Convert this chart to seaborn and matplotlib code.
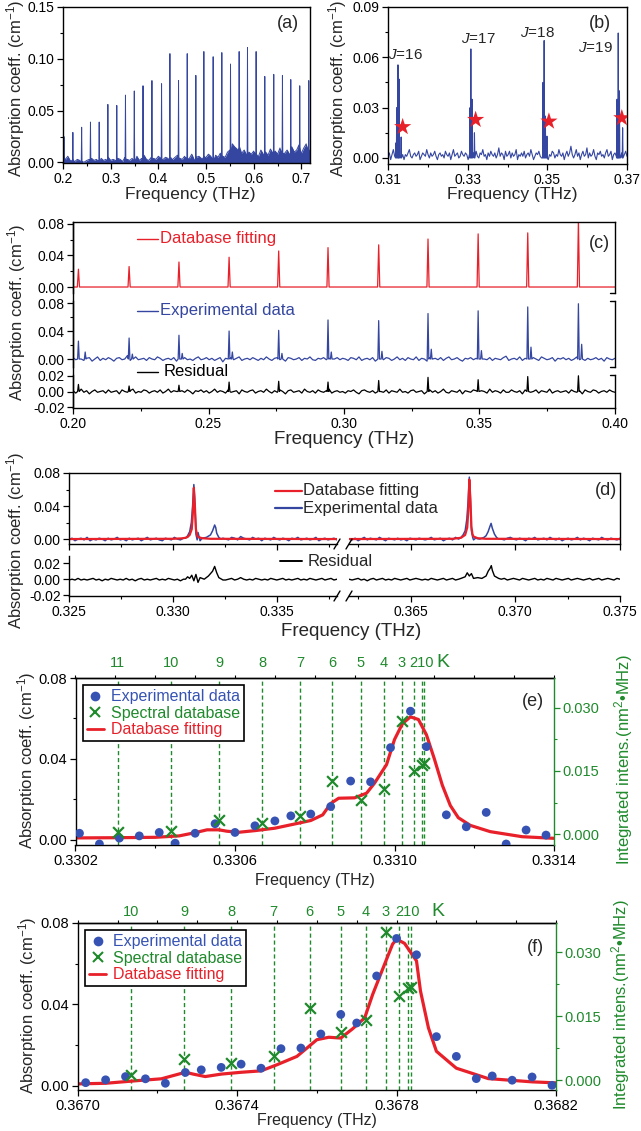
import numpy as np
import matplotlib
matplotlib.use("Agg")
import matplotlib.pyplot as plt
import seaborn as sns
from matplotlib.lines import Line2D
from matplotlib.ticker import FormatStrFormatter, NullFormatter

# ---- data --------------------------------------------------------------
# panels (a)-(d): absorption values in 10^-3 cm^-1, frequencies in THz

# (a) broad spectrum: line centres / heights and the baseline envelope
a_peak_x = [0.2020, 0.2207, 0.2391, 0.2576, 0.2759, 0.2941, 0.3128, 0.3310, 0.3495, 0.3678,
            0.3865, 0.4067, 0.4242, 0.4423, 0.4605, 0.4786, 0.4954, 0.5149, 0.5331, 0.5513,
            0.5694, 0.5869, 0.6050, 0.6232, 0.6420, 0.6602, 0.6777, 0.6965, 0.7154]
a_peak_h = [25, 29, 34, 39, 39, 56, 55, 65, 69, 74, 79, 76, 105, 79, 105, 84, 107, 102, 106, 95,
            107, 111, 107, 83, 85, 84, 80, 74, 79]
a_base = [8, 3, 6, 2, 4, 1, 3, 2, 0.5, 0.5, 2, 3, 4, 2, 3, 1, 4, 2, 3, 5, 2, 3, 2, 4, 3, 1, 5, 3, 2, 4,
          3, 6, 2, 4, 7, 3, 2, 5, 4, 3, 6, 4, 3, 5, 4, 6, 3, 5, 7, 4, 3, 6, 5, 4, 8, 3, 5, 6, 4, 7,
          5, 8, 6, 4, 7, 5, 9, 6, 5, 10, 12, 18, 15, 13, 16, 9, 12, 7, 10, 8, 11, 9, 6, 12, 8, 10, 7,
          13, 9, 11, 8, 14, 10, 9, 12, 8, 15, 10, 12, 17, 9, 14, 18, 12, 16]

# (b) J = 16..19 multiplets
b_peak_x = [0.3120, 0.3122, 0.3125, 0.3128, 0.3133, 0.3306, 0.3308, 0.3311, 0.3317,
            0.3489, 0.3492, 0.3495, 0.3499, 0.3675, 0.3678, 0.3681, 0.3689]
b_peak_h = [9, 30, 55.5, 47, 12.5, 30, 65, 35, 15, 45, 70, 25, 13, 35, 74.5, 40, 18]
b_base = [1, 3, -1, 2, 5, 1, 2, 0, 3, 1, 4, 2, -1, 2, 1, 3, 5, 1, 0, 2, 3, 1, 2, 4, -1, 1, 3, 2,
          1, 5, 2, 0, 3, 1, 2, 4, 1, -1, 2, 3, 1, 2, 0, 4, 2, 1, 3, -1, 2, 5, 1, 2, 3, 0, 1, 4, 2,
          1, 3, 2, -1, 2, 5, 1, 3, 2, 4, 1, 0, 3, 2, 5, 1, 2, -1, 3, 1, 4, 2, 1, 3, 0, 2, 6, 1, 3,
          2, -1, 4, 1, 2, 4, 0, 3, 1, 2, 5, -1, 2, 1, 3, 1, 4, 0, 2, 3, 1, 5, 2, -1, 1, 3, 2, 4,
          1, 0, 2, 6, 1, 3, -1, 2, 1, 4, 3, 0, 2, 1, 5, 2, 1, 3, -1, 2, 4, 1, 3, 7, 2, 0, 2, 5, 1,
          3, -1, 2, 4, 1, 2, 6, 0, 3, 1, 2, 5, 1, -1, 3, 2, 4, 1, 2, 0, 3, 5, 1, 2, 4, -1, 2, 3,
          1, 5, 2, 0, 3, 1, 2, 4, 1]
b_star_x = [0.31368, 0.3320, 0.3504, 0.3687]
b_star_y = [18.5, 22.8, 21.8, 23.8]
b_j_names = ["16", "17", "18", "19"]

# (c) database fit / experiment / residual, 0.2 - 0.4 THz
c_line_x = [0.2020, 0.2207, 0.2391, 0.2576, 0.2759, 0.2941, 0.3128, 0.3310, 0.3495, 0.3678, 0.3865]
c_fit_h = [22.6, 26, 31.7, 37.8, 45.7, 50, 53.5, 60.9, 67.4, 68.7, 85]
c_exp_h = [25.6, 30, 34, 40, 41, 55.8, 54.9, 65, 68.8, 74.4, 79]
c_sat_x = [0.2045, 0.2219, 0.2403, 0.2588, 0.2771, 0.2953, 0.3140, 0.3322, 0.3507, 0.3690, 0.3877]
c_sat_h = [10, 7, 8, 10, 8, 10, 11, 14, 12, 17, 21]
c_res_h = [9, 7, 8, 12, 13, 12, 14, 18, 15, 19, 20]
c_exp_base = [2, -1, 3, 0, -2, 1, 2, -3, 0, 3, -2, 1, -1, 2, 0, -3, 1, 2, -1, 0,
              5, -2, 1, 3, -1, 0, 1, -2, 2, 0, -1, 3, 1, -2, 0, 1, -1, 2, -3, 0,
              1, 2, -1, 0, -2, 1, 3, -1, 0, 2, -1, 1, -2, 0, 2, -4, 1, 0, 2, -1,
              1, 3, -2, 0, 1, -1, 2, 0, -2, 1, -1, 3, 0, -2, 1, 2, -1, 0, -3, 2,
              1, -1, 0, 2, -2, 1, 0, 3, -1, -2, 1, 0, 2, -1, 1, -3, 0, 2, -1, 1,
              0, -2, 2, 1, -1, 3, -2, 0, 1, -1, 2, -3, 1, 0, -1, 2, 1, -2, 0, 3,
              -1, 1, -2, 2, 0, -1, 3, -2, 1, 0, -3, 2, 0, 1, -1, 2, -2, 1, 3, -1,
              0, 2, -1, -3, 1, 0, 2, -1, 1, -2, 3, 0, -1, 2, -2, 1, 0, -1, 2, 4,
              -2, 0, 1, -1, 3, -2, 1, 0, -1, 2, 0, -2, 3, 1, -1, 0, 2, -3, 1, 0,
              2, -1, 1, -2, 0, 3, -1, 2, -2, 1, -1, 0, 2, -1, 1, -3, 2, 0, -1, 1]
c_res_base = [1, -2, 0, 3, -1, 1, -3, 0, 2, -1, 0, 1, -2, 2, -1, 0, 1, -3, 2, 0,
              -1, 1, 3, -2, 0, -1, 2, 1, -2, 0, 1, -1, 2, -2, 0, 3, -1, 1, 0, -2,
              1, -1, 2, 0, -3, 1, 0, 2, -1, 1, -2, 0, 3, -1, 1, 0, -2, 2, -1, 0,
              1, -3, 2, 0, -1, 1, 2, -2, 0, 1, -1, 3, 0, -2, 1, -1, 2, 0, -3, 1,
              2, -1, 0, 1, -2, 3, 0, -1, 1, -2, 2, 0, -1, 1, 3, -2, 0, 1, -1, 0,
              -2, 1, 0, 2, -1, -3, 1, 2, 0, -1, 1, -2, 3, 0, -1, 2, -2, 1, 0, -1,
              3, -1, 0, -2, 1, 2, -1, 0, 1, -3, 0, 2, -1, 1, -2, 0, 3, -1, -2, 1,
              0, -1, 2, -3, 1, 0, -1, 2, 1, -2, 1, 0, -2, 3, -1, 1, 0, -2, 2, -1,
              -1, 2, 0, -1, 1, -3, 2, 1, -1, 0, 2, -2, 1, 0, -1, 3, -2, 0, 1, -1,
              0, 1, -2, 2, 0, -1, 1, -3, 2, 0, -1, 2, 1, -2, 0, 1, -1, 2, 0, -1]

# (d) two windows around J=17 and J=19
d_fit_left_x = [0.3250, 0.3300, 0.3304, 0.3306, 0.3307, 0.3308, 0.3309, 0.33095, 0.3310, 0.33105,
                0.3311, 0.33115, 0.3312, 0.3314, 0.3318, 0.33788]
d_fit_left_y = [0, 0.3, 0.8, 1.5, 2.5, 5, 12, 30, 62, 40, 12, 5, 2.5, 1, 0.3, 0]
d_fit_right_x = [0.36205, 0.3670, 0.3674, 0.3676, 0.3677, 0.36775, 0.3678, 0.36785, 0.3679,
                 0.36795, 0.3680, 0.3682, 0.3686, 0.3750]
d_fit_right_y = [0, 0.3, 1.5, 5, 14, 34, 72, 48, 15, 6, 3, 1, 0.3, 0]

d_exp_left_pk_x = [0.3306, 0.3307, 0.3308, 0.33088, 0.33094, 0.3310, 0.33104, 0.33108, 0.3311,
                   0.33116, 0.3312, 0.33126, 0.3313, 0.3314, 0.3316, 0.3318, 0.3319, 0.3320,
                   0.33205, 0.3321, 0.3322, 0.3323, 0.3324]
d_exp_left_pk_y = [1, 4, 9, 20, 40, 66, 50, 22, 6, -1, 8, 2, -2, 1, 2, 5, 10, 17, 14, 7, 2, 0, 1]
d_exp_right_pk_x = [0.3674, 0.3675, 0.3676, 0.36768, 0.36774, 0.3678, 0.36784, 0.36788, 0.3679,
                    0.36796, 0.3680, 0.3681, 0.3683, 0.3685, 0.3686, 0.3687, 0.36878, 0.36884,
                    0.3689, 0.3690, 0.3691, 0.3692]
d_exp_right_pk_y = [2, 5, 10, 24, 45, 75, 58, 25, 10, 2, -1, 1, 0, 2, 4, 9, 15, 19, 13, 6, 2, 0]
d_res_left_pk_x = [0.3306, 0.3307, 0.3308, 0.3309, 0.3310, 0.3311, 0.3312, 0.3313, 0.3315, 0.3317,
                   0.3319, 0.3320, 0.3321, 0.3322, 0.3324]
d_res_left_pk_y = [0, 3, 1, 5, -2, 6, -4, 2, 0, 4, 10, 16, 8, 2, -1]
d_res_right_pk_x = [0.3674, 0.3676, 0.3677, 0.3678, 0.3679, 0.3680, 0.3682, 0.3684, 0.3686,
                    0.3687, 0.3688, 0.36885, 0.3689, 0.3690, 0.3692]
d_res_right_pk_y = [1, 3, 8, 4, 7, 1, 2, 1, 4, 10, 14, 17, 11, 4, 1]

d_exp_left_base = [-1, 1, -2, 0, 1, -1, 2, -2, 0, -1, 1, 0, -2, 1, -1, 0, 2, -1, 0, -2, 1, -1, 0,
                   1, -2, 0, 2, -1, 0, 1, -1, -2, 1, 0, -1, 2, 0, -1, 1, -2, 0, 1, -1, 0, 2, -1,
                   1, 0, 2, -1, 1, 3, 0, -1, 2, 1, -1, 3, 1, 0, -1, 2, 0, 1, -2, 1, 0, -1, 2, 0,
                   -1, 1, 0, -2, 1, 0, 2, -1, 0, 1, -1, 0, 2, -2, 0, 1, -1, 0, 1, -1]
d_res_left_base = [-1, 0, -1, 1, -1, 0, -1, 0, 1, -1, 0, -2, 0, -1, 1, 0, -1, 0, -1, 1, -1, 0, -2,
                   0, 1, -1, 0, -1, 0, 1, -1, 0, -1, 1, 0, -1, 0, -2, 0, 1, -1, 0, 1, -1, 0, -1,
                   1, 0, -1, 1, 0, 2, -1, 0, 1, -1, 0, 2, 0, -1, 0, -1, 1, 0, -1, 0, -1, 1, 0,
                   -1, 0, 1, -1, 0, -1, 0, 1, -1, 0, -1, 1, 0, -1, 0, 1, -1, 0, 1, -1, 0]
d_exp_right_base = [0, -1, 1, -2, 0, 2, -1, 1, 0, -1, 2, 0, -2, 1, 0, -1, 1, -1, 0, -2, 1, 0, -1,
                    1, 0, -1, 0, 2, -1, 0, 1, -2, 0, 1, -1, 2, 0, -1, 1, 0, 2, -1, 0, 1, 3, 0, 1,
                    -1, 2, 1, 0, -1, 1, 2, 0, -1, 1, 0, -2, 1, 0, 2, -1, 0, 1, -1, 2, 0, -1, 1,
                    -2, 0, 1, -1, 0, 2, -1, 1, 0, -2, 1, 0, -1, 2, 0, -1, 1, 0, -1, 1]
d_res_right_base = [0, -1, 0, 1, -1, 0, -2, 0, 1, -1, 0, 1, -1, 0, -1, 1, 0, -1, 0, 1, -1, 0, 1,
                    0, -1, 0, -1, 1, 0, -1, 0, 1, -1, 0, 1, -1, 0, -1, 1, 0, 1, -1, 0, 1, 0, -1,
                    2, 0, 1, -1, 0, 1, -1, 0, 1, 0, -1, 1, 0, -1, 0, 1, -1, 0, -1, 1, 0, -1, 1,
                    0, -1, 0, 1, -1, 0, 1, 0, -1, 0, 1, -1, 0, 1, -1, 0, 1, 0, -1, 1, 0]

# (e) J=17 K-structure (cm^-1, right axis nm^2 MHz)
e_exp_x = [0.33021, 0.33026, 0.33031, 0.33036, 0.33041, 0.33045, 0.33050, 0.33055, 0.33060,
           0.33065, 0.33070, 0.33074, 0.33079, 0.33084, 0.33089, 0.33094, 0.33099, 0.33104,
           0.33108, 0.33113, 0.33118, 0.33123, 0.33128, 0.33133, 0.33138]
e_exp_y = [0.0033, -0.0020, 0.0009, 0.0020, 0.0037, -0.0016, 0.0033, 0.0080, 0.0037, 0.0070,
           0.0094, 0.0119, 0.0128, 0.0165, 0.0291, 0.0287, 0.0456, 0.0636, 0.0461, 0.0124,
           0.0065, 0.0136, -0.0020, 0.0049, 0.0024]
e_fit_x = [0.33020, 0.33030, 0.33040, 0.33046, 0.33050, 0.33053, 0.33056, 0.33058, 0.33061,
           0.33065, 0.33070, 0.33075, 0.33079, 0.33082, 0.33084, 0.33086, 0.33090, 0.33093,
           0.33095, 0.33098, 0.33100, 0.33102, 0.33104, 0.33106, 0.33108, 0.33110, 0.33112,
           0.33114, 0.33116, 0.33119, 0.33124, 0.33132, 0.33140]
e_fit_y = [0.0010, 0.0011, 0.0013, 0.0020, 0.0036, 0.0050, 0.0050, 0.0043, 0.0038, 0.0046,
           0.0058, 0.0079, 0.0096, 0.0124, 0.0180, 0.0206, 0.0208, 0.0231, 0.0281, 0.0372,
           0.0496, 0.0575, 0.0608, 0.0595, 0.0520, 0.0400, 0.0270, 0.0170, 0.0110, 0.0072,
           0.0041, 0.0016, 0.0008]
e_k = [11, 10, 9, 8, 7, 6, 5, 4, 3, 2, 1, 0]
e_k_x = [0.330306, 0.330439, 0.330560, 0.330668, 0.330763, 0.330844, 0.330915, 0.330974,
         0.331018, 0.331050, 0.331068, 0.331075]
e_k_int = [0.0004, 0.0008, 0.0034, 0.0026, 0.0043, 0.0126, 0.0082, 0.0108, 0.0268, 0.0151,
           0.0165, 0.0170]

# (f) J=19 K-structure
f_exp_x = [0.36702, 0.36707, 0.36712, 0.36717, 0.36722, 0.36727, 0.36731, 0.36736, 0.36741,
           0.36746, 0.36751, 0.36756, 0.36761, 0.36766, 0.36770, 0.36775, 0.36780, 0.36785,
           0.36790, 0.36795, 0.36800, 0.36804, 0.36809, 0.36814, 0.36819]
f_exp_y = [0.0016, 0.0030, 0.0046, 0.0035, 0.0013, 0.0066, 0.0079, 0.0091, 0.0107, 0.0087,
           0.0183, 0.0186, 0.0255, 0.0351, 0.0309, 0.0540, 0.0724, 0.0644, 0.0242, 0.0145,
           0.0036, 0.0049, 0.0028, 0.0044, 0.0003]
f_fit_x = [0.36700, 0.36707, 0.36715, 0.36721, 0.36724, 0.36727, 0.36729, 0.36732, 0.36736,
           0.36741, 0.36746, 0.36750, 0.36755, 0.36758, 0.36760, 0.36763, 0.36766, 0.36769,
           0.36772, 0.36774, 0.36777, 0.36779, 0.36780, 0.36782, 0.36785, 0.36786, 0.36788,
           0.36790, 0.36793, 0.36795, 0.36803, 0.36814, 0.36820]
f_fit_y = [0.0010, 0.0013, 0.0026, 0.0035, 0.0051, 0.0067, 0.0058, 0.0046, 0.0058, 0.0067,
           0.0074, 0.0104, 0.0145, 0.0194, 0.0227, 0.0239, 0.0235, 0.0281, 0.0334, 0.0449,
           0.0598, 0.0696, 0.0721, 0.0700, 0.0614, 0.0466, 0.0285, 0.0170, 0.0120, 0.0087,
           0.0036, 0.0020, 0.0015]
f_k = [10, 9, 8, 7, 6, 5, 4, 3, 2, 1, 0]
f_k_x = [0.367134, 0.367267, 0.367385, 0.367492, 0.367582, 0.367660, 0.367723, 0.367773,
         0.367807, 0.367828, 0.367836]
f_k_int = [0.0013, 0.0049, 0.0041, 0.0057, 0.0168, 0.0113, 0.0142, 0.0347, 0.0198, 0.0215,
           0.0219]

# ---- style -------------------------------------------------------------
BLUE = "#3446a0"
DOT = "#3653b3"
RED = "#e8202a"
GREEN = "#1f8a2c"
M = 1e-3
TS = 10  # tick label size, panels a-d

sns.set_style("ticks")
plt.rcParams["font.family"] = ["Liberation Sans", "DejaVu Sans"]
plt.rcParams.update({
    "mathtext.fontset": "custom",
    "mathtext.rm": "Liberation Sans",
    "mathtext.it": "Liberation Sans:italic",
    "axes.unicode_minus": False,
    "axes.edgecolor": "black",
    "axes.linewidth": 1.0,
    "xtick.color": "black", "ytick.color": "black",
    "xtick.direction": "out", "ytick.direction": "out",
    "xtick.major.size": 4, "ytick.major.size": 4,
    "xtick.minor.size": 2.5, "ytick.minor.size": 2.5,
    "xtick.major.width": 0.9, "ytick.major.width": 0.9,
    "xtick.minor.width": 0.8, "ytick.minor.width": 0.8,
    "xtick.major.pad": 2.5, "ytick.major.pad": 2,
})

W, H = 641, 1131
fig = plt.figure(figsize=(W / 100, H / 100), dpi=100)


def box(l, t, r, b):
    return fig.add_axes([l / W, 1 - b / H, (r - l) / W, (b - t) / H])


def ftext(x, y, s, **kw):
    fig.text(x / W, 1 - y / H, s, **kw)


def fline(x0, x1, y0, y1, **kw):
    fig.add_artist(Line2D([x0 / W, x1 / W], [1 - y0 / H, 1 - y1 / H],
                          transform=fig.transFigure, **kw))


def spikes(cx, h, hw):
    xs, ys, spans = [], [], []
    for c, v in zip(cx, h):
        xs += [c - hw, c, c + hw]
        ys += [0, v, 0]
        spans.append((c - hw, c + hw))
    return xs, ys, spans


def splice(bx, by, px, py, spans):
    # baseline samples inside a peak are replaced by the peak profile
    bx = np.asarray(bx, float)
    by = np.asarray(by, float)
    keep = np.ones(len(bx), bool)
    for a, b in spans:
        keep &= ~((bx >= a) & (bx <= b))
    x = np.concatenate([bx[keep], px])
    y = np.concatenate([by[keep], py])
    o = np.argsort(x, kind="stable")
    return x[o], y[o]


def line(ax, x, y, color, lw):
    sns.lineplot(x=x, y=y, color=color, lw=lw, sort=False, estimator=None, ax=ax)


def ticks(ax, axis, major, minor, fmt, size):
    a = ax.xaxis if axis == "x" else ax.yaxis
    a.set_ticks(major)
    a.set_ticks(minor, minor=True)
    a.set_major_formatter(FormatStrFormatter(fmt))
    ax.tick_params(axis=axis, labelsize=size)


YLAB = "Absorption coeff. (cm$^{-1}$)"

# ---- (a) ---------------------------------------------------------------
ax = box(63, 7, 310, 163)
xb = np.linspace(0.2, 0.72, len(a_base))
yb = np.asarray(a_base) * M
ax.fill_between(xb, 0, yb, color=BLUE, lw=0)
px, py, sp = spikes(a_peak_x, np.asarray(a_peak_h) * M, 0.0008)
x, y = splice(xb, yb, px, py, sp)
line(ax, x, y, BLUE, 0.7)
ax.set_xlim(0.2, 0.718)
ax.set_ylim(-0.0005, 0.15)
ticks(ax, "x", [0.2, 0.3, 0.4, 0.5, 0.6, 0.7], [0.25, 0.35, 0.45, 0.55, 0.65], "%.1f", TS)
ticks(ax, "y", [0, 0.05, 0.10, 0.15], [0.025, 0.075, 0.125], "%.2f", TS)
ftext(288, 23, "(a)", fontsize=13, ha="center", va="center")
ftext(190, 195, "Frequency (THz)", fontsize=12.5, ha="center", va="center")
ftext(16, 88, YLAB, fontsize=12, rotation=90, ha="center", va="center")

# ---- (b) ---------------------------------------------------------------
ax = box(388, 7, 627, 164)
xb = np.linspace(0.31, 0.37, len(b_base))
yb = np.asarray(b_base) * M
px, py, sp = spikes(b_peak_x, np.asarray(b_peak_h) * M, 0.0001)
x, y = splice(xb, yb, px, py, sp)
line(ax, x, y, BLUE, 0.8)
sns.scatterplot(x=b_star_x, y=np.asarray(b_star_y) * M, marker="*", s=170, color=RED,
                edgecolor="none", ax=ax, zorder=5)
j_pos = [(0.3144, 0.0616), (0.3328, 0.0709), (0.3474, 0.0745), (0.3621, 0.0656)]
for (jx, jy), n in zip(j_pos, b_j_names):
    ax.text(jx, jy, "$J$=" + n, fontsize=11, ha="center", va="center")
ax.set_xlim(0.31, 0.37)
ax.set_ylim(-0.0036, 0.09)
ticks(ax, "x", [0.31, 0.33, 0.35, 0.37], [0.32, 0.34, 0.36], "%.2f", TS)
ticks(ax, "y", [0, 0.03, 0.06, 0.09], [0.015, 0.045, 0.075], "%.2f", TS)
ftext(600, 23, "(b)", fontsize=13, ha="center", va="center")
ftext(512, 195, "Frequency (THz)", fontsize=12.5, ha="center", va="center")
ftext(338, 88, YLAB, fontsize=12, rotation=90, ha="center", va="center")

# ---- (c) ---------------------------------------------------------------
c_top = box(73, 222, 615, 293)
c_mid = box(73, 301, 615, 367)
c_res = box(73, 375, 615, 408)

px, py, sp = spikes(c_line_x, np.asarray(c_fit_h) * M, 0.0004)
x, y = splice([0.2, 0.4], [0, 0], px, py, sp)
line(c_top, x, y, RED, 0.9)

xb = np.linspace(0.2, 0.4, len(c_exp_base))
px, py, sp = spikes(c_line_x + c_sat_x, np.asarray(c_exp_h + c_sat_h) * M, 0.0003)
x, y = splice(xb, np.asarray(c_exp_base) * M, px, py, sp)
line(c_mid, x, y, BLUE, 0.9)

xb = np.linspace(0.2, 0.4, len(c_res_base))
px, py, sp = spikes(c_line_x, np.asarray(c_res_h) * M, 0.0003)
x, y = splice(xb, np.asarray(c_res_base) * M, px, py, sp)
line(c_res, x, y, "black", 0.9)

for a, lim in [(c_top, (-0.0076, 0.0825)), (c_mid, (-0.0114, 0.0829)), (c_res, (-0.021, 0.021))]:
    a.set_xlim(0.2, 0.4)
    a.set_ylim(lim)
    ticks(a, "x", [0.20, 0.25, 0.30, 0.35, 0.40], [0.225, 0.275, 0.325, 0.375], "%.2f", TS)
for a in (c_top, c_mid):
    ticks(a, "y", [0, 0.04, 0.08], [0.02, 0.06], "%.2f", TS)
    a.tick_params(axis="x", which="both", bottom=False, labelbottom=False)
    a.spines["bottom"].set_visible(False)
ticks(c_res, "y", [-0.02, 0, 0.02], [], "%.2f", TS)
c_mid.spines["top"].set_visible(False)
c_res.spines["top"].set_visible(False)
for a, ends in [(c_top, [0]), (c_mid, [0, 1]), (c_res, [1])]:
    for e in ends:
        a.plot([1, 0.99], [e, e], transform=a.transAxes, color="black", lw=1, clip_on=False)
fline(73, 73, 222, 408, color="black", lw=1)
fline(137, 158, 239, 239, color=RED, lw=1)
ftext(160, 239, "Database fitting", color=RED, fontsize=12, va="center")
fline(137, 158, 311, 311, color=BLUE, lw=1)
ftext(160, 311, "Experimental data", color=BLUE, fontsize=12, va="center")
fline(137, 158, 372, 372, color="black", lw=1)
ftext(164, 372, "Residual", color="black", fontsize=12, va="center")
ftext(599, 243, "(c)", fontsize=13, ha="center", va="center")
ftext(344, 440, "Frequency (THz)", fontsize=13.5, ha="center", va="center")
ftext(17, 312, YLAB, fontsize=12, rotation=90, ha="center", va="center")

# ---- (d) ---------------------------------------------------------------
d_tl = box(69, 473, 337, 544)
d_tr = box(349, 473, 620, 544)
d_bl = box(69, 556, 337, 596)
d_br = box(349, 556, 620, 596)
halves = [
    (d_tl, d_bl, (0.325, 0.33788), d_exp_left_base, d_exp_left_pk_x, d_exp_left_pk_y,
     d_res_left_base, d_res_left_pk_x, d_res_left_pk_y, d_fit_left_x, d_fit_left_y,
     [0.325, 0.330, 0.335], [0.3275, 0.3325, 0.3375]),
    (d_tr, d_br, (0.36205, 0.375), d_exp_right_base, d_exp_right_pk_x, d_exp_right_pk_y,
     d_res_right_base, d_res_right_pk_x, d_res_right_pk_y, d_fit_right_x, d_fit_right_y,
     [0.365, 0.370, 0.375], [0.3625, 0.3675, 0.3725]),
]
for (at, ab, xl, eb, epx, epy, rb, rpx, rpy, fx, fy, maj, mnr) in halves:
    xb = np.linspace(xl[0], xl[1], len(eb))
    x, y = splice(xb, np.asarray(eb) * M, epx, np.asarray(epy) * M, [(epx[0], epx[-1])])
    line(at, x, y, BLUE, 1.1)
    line(at, fx, np.asarray(fy) * M, RED, 1.6)
    xb = np.linspace(xl[0], xl[1], len(rb))
    x, y = splice(xb, np.asarray(rb) * M, rpx, np.asarray(rpy) * M, [(rpx[0], rpx[-1])])
    line(ab, x, y, "black", 1.0)
    at.set_ylim(-0.006, 0.08)
    ab.set_ylim(-0.021, 0.029)
    for a in (at, ab):
        a.set_xlim(xl)
        ticks(a, "x", maj, mnr, "%.3f", TS)
        a.spines["top"].set_visible(False)
    at.tick_params(axis="x", labelbottom=False)
    ab.spines["right"].set_visible(False)
ticks(d_tl, "y", [0, 0.04, 0.08], [0.02, 0.06], "%.2f", TS)
ticks(d_bl, "y", [-0.02, 0, 0.02], [], "%.2f", TS)
d_tl.spines["right"].set_visible(False)
d_tr.spines["left"].set_visible(False)
d_br.spines["left"].set_visible(False)
for a in (d_tr, d_br):
    a.tick_params(axis="y", which="both", left=False, labelleft=False)
fline(69, 620, 473, 473, color="black", lw=1)
for yy in (544, 596):
    fline(334, 340, yy + 5, yy - 5, color="black", lw=1)
    fline(346, 352, yy + 5, yy - 5, color="black", lw=1)
fline(275, 302, 491, 491, color=RED, lw=1.6)
ftext(303, 491, "Database fitting", fontsize=12, va="center")
fline(275, 302, 508, 508, color=BLUE, lw=1.6)
ftext(303, 508, "Experimental data", fontsize=12, va="center")
fline(280, 302, 561, 561, color="black", lw=1.4)
ftext(308, 561, "Residual", fontsize=12, va="center")
ftext(606, 490, "(d)", fontsize=13, ha="center", va="center")
ftext(351, 632, "Frequency (THz)", fontsize=13.5, ha="center", va="center")
ftext(16, 540, YLAB, fontsize=12, rotation=90, ha="center", va="center")


# ---- (e), (f) ----------------------------------------------------------
def k_panel(l, t, r, b, exp_x, exp_y, fit_x, fit_y, ks, k_x, k_int, xlim, xmaj, xmin,
            ylim, tylim, k_y, kk_x, tag, tag_xy, xlab_y, ylab_xy, rlab_xy):
    ax = box(l, t, r, b)
    tw = ax.twinx()
    for xv in k_x:
        ax.axvline(xv, color=GREEN, lw=1.0, ls=(0, (3, 2)), zorder=1)
    line(ax, fit_x, fit_y, RED, 2.3)
    sns.scatterplot(x=exp_x, y=exp_y, color=DOT, s=40, edgecolor="none", ax=ax, zorder=4)
    sns.scatterplot(x=k_x, y=k_int, marker="x", color=GREEN, s=60, linewidth=1.6, ax=tw,
                    zorder=5)
    ax.set_xlim(xlim)
    ax.set_ylim(ylim)
    tw.set_ylim(tylim)
    ticks(ax, "x", xmaj, xmin, "%.4f", 10.5)
    ticks(ax, "y", [0, 0.04, 0.08], [0.02, 0.06], "%.2f", 10.5)
    ticks(tw, "y", [0, 0.015, 0.03], [0.0075, 0.0225], "%.3f", 10.5)
    tw.tick_params(axis="y", which="both", colors=GREEN)
    tw.spines["right"].set_color(GREEN)
    for s in ("left", "top", "bottom"):
        tw.spines[s].set_visible(False)
    ax.spines["right"].set_visible(False)
    sec = ax.secondary_xaxis("top")
    sec.set_xticks(np.round(np.arange(xlim[0], xlim[1] + 1e-6, 0.0001), 4))
    sec.xaxis.set_major_formatter(NullFormatter())
    sec.tick_params(axis="x", length=2.5, width=0.8)
    for k, xv in zip(ks, k_x):
        if k in (2, 0):
            continue
        s = "210" if k == 1 else str(k)
        ax.text(xv, k_y, s, transform=ax.get_xaxis_transform(), ha="center", va="center",
                color=GREEN, fontsize=10.5)
    ax.text(kk_x, k_y, "K", transform=ax.transAxes, ha="center", va="center",
            color=GREEN, fontsize=14)
    handles = [Line2D([], [], ls="", marker="o", ms=7, color=DOT, mec="none"),
               Line2D([], [], ls="", marker="x", ms=7, mew=1.5, color=GREEN),
               Line2D([], [], color=RED, lw=2)]
    leg = tw.legend(handles, ["Experimental data", "Spectral database", "Database fitting"],
                    loc="upper left", fancybox=False, edgecolor="black", framealpha=1,
                    fontsize=11.5, handlelength=1.1, handletextpad=0.4, borderpad=0.25,
                    labelspacing=0.1, borderaxespad=0.45, labelcolor=[DOT, GREEN, RED])
    leg.get_frame().set_linewidth(1.2)
    ftext(tag_xy[0], tag_xy[1], tag, fontsize=13, ha="center", va="center")
    ftext((l + r) / 2, xlab_y, "Frequency (THz)", fontsize=11.5, ha="center", va="center")
    ftext(ylab_xy[0], ylab_xy[1], YLAB, fontsize=12, rotation=90, ha="center", va="center")
    ftext(rlab_xy[0], rlab_xy[1], "Integrated intens.(nm$^2$\u2022MHz)", fontsize=12,
          rotation=90, ha="center", va="center", color=GREEN)


k_panel(75.5, 678, 554, 845, e_exp_x, e_exp_y, e_fit_x, e_fit_y, e_k, e_k_x, e_k_int,
        (0.3302, 0.3314), [0.3302, 0.3306, 0.3310, 0.3314], [0.3304, 0.3308, 0.3312],
        (-0.0025, 0.08), (-0.0026, 0.0371), 1.09, 0.768, "(e)", (533, 702), 880,
        (27, 760), (624, 760))
k_panel(77.7, 923, 556, 1090, f_exp_x, f_exp_y, f_fit_x, f_fit_y, f_k, f_k_x, f_k_int,
        (0.3670, 0.3682), [0.3670, 0.3674, 0.3678, 0.3682], [0.3672, 0.3676, 0.3680],
        (-0.002, 0.08), (-0.0023, 0.0368), 1.066, 0.753, "(f)", (535, 947), 1120,
        (28, 1005), (621, 1005))

fig.savefig("out.png", dpi=100)
